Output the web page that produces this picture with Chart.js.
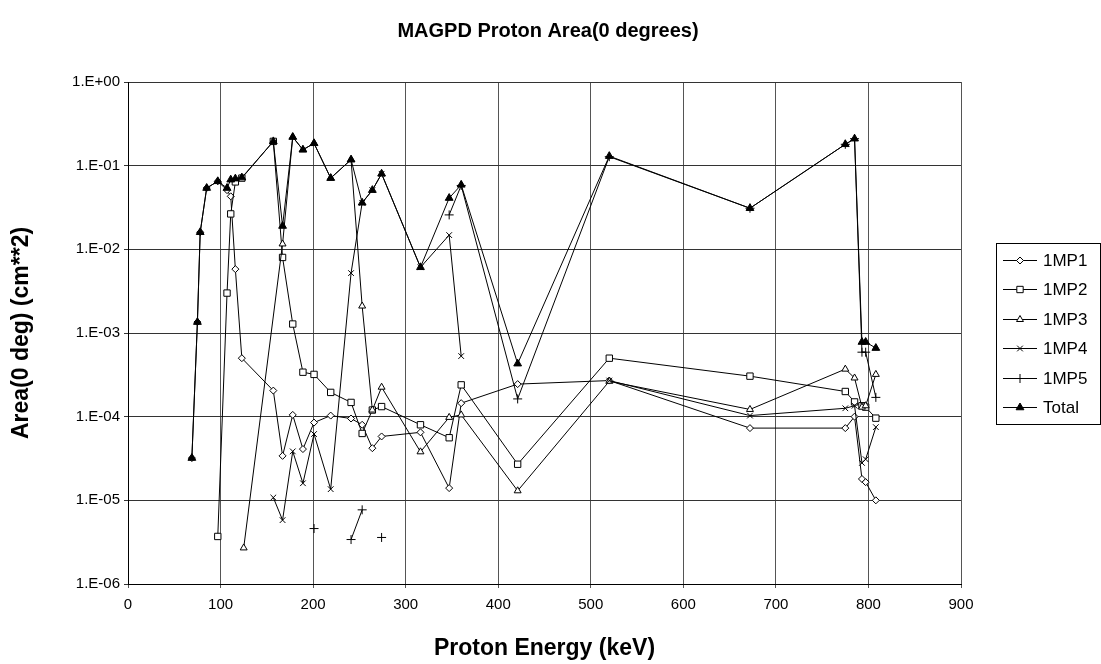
<!DOCTYPE html>
<html>
<head>
<meta charset="utf-8">
<script src="https://cdn.jsdelivr.net/npm/chart.js@4/dist/chart.umd.min.js"></script>
<style>
html,body{margin:0;padding:0;background:#fff;}
#wrap{width:1101px;height:664px;position:relative;}
</style>
</head>
<body>
<div id="wrap"><canvas id="c" width="1101" height="664"></canvas></div>
<script>
// ---------------- DATA ----------------
const chartTitle = 'MAGPD Proton Area(0 degrees)';
const xTitle = 'Proton Energy (keV)';
const yTitle = 'Area(0 deg) (cm**2)';
const seriesNames = ['1MP1', '1MP2', '1MP3', '1MP4', '1MP5', 'Total'];

const totalE = [69, 75, 78, 85, 97, 107, 111, 116, 123, 157, 167, 178, 189, 201, 219, 241, 253, 264, 274, 316, 347, 360, 421, 520, 672, 775, 785, 793, 797, 808];
const totalV = [3.2e-5, 1.35e-3, 1.6e-2, 5.4e-2, 6.5e-2, 5.4e-2, 6.8e-2, 7.0e-2, 7.2e-2, 0.195, 0.019, 0.22, 0.155, 0.185, 0.071, 0.118, 0.036, 0.051, 0.080, 0.0061, 0.041, 0.059, 4.3e-4, 0.13, 0.031, 0.18, 0.21, 7.8e-4, 7.8e-4, 6.6e-4];

const mp1E = [69, 75, 78, 85, 97, 107, 111, 116, 123, 157, 167, 178, 189, 201, 219, 241, 253, 264, 274, 316, 347, 360, 421, 520, 672, 775, 785, 793, 797, 808];
const mp1V = [3.2e-5, 1.35e-3, 1.6e-2, 5.4e-2, 6.5e-2, 5.1e-2, 4.3e-2, 5.8e-3, 5.0e-4, 2.05e-4, 3.4e-5, 1.05e-4, 4.1e-5, 8.5e-5, 1.03e-4, 9.5e-5, 8.0e-5, 4.2e-5, 5.8e-5, 6.5e-5, 1.4e-5, 1.45e-4, 2.45e-4, 2.7e-4, 7.3e-5, 7.3e-5, 1.0e-4, 1.8e-5, 1.65e-5, 1.0e-5];

const mp2E = [97, 107, 111, 116, 123, 157, 167, 178, 189, 201, 219, 241, 253, 264, 274, 316, 347, 360, 421, 520, 672, 775, 785, 793, 797, 808];
const mp2V = [3.7e-6, 3.0e-3, 2.65e-2, 6.4e-2, 7.1e-2, 0.195, 8.0e-3, 1.28e-3, 3.4e-4, 3.2e-4, 1.95e-4, 1.48e-4, 6.3e-5, 1.2e-4, 1.32e-4, 8.0e-5, 5.6e-5, 2.4e-4, 2.7e-5, 5.0e-4, 3.05e-4, 2.0e-4, 1.5e-4, 1.35e-4, 1.3e-4, 9.6e-5];

const mp3E = [125, 167, 178, 189, 201, 219, 241, 253, 264, 274, 316, 347, 360, 421, 520, 672, 775, 785, 793, 797, 808];
const mp3V = [2.7e-6, 1.16e-2, 0.22, 0.155, 0.185, 0.071, 0.118, 2.1e-3, 1.2e-4, 2.25e-4, 3.8e-5, 9.8e-5, 1.05e-4, 1.3e-5, 2.65e-4, 1.22e-4, 3.7e-4, 2.9e-4, 1.3e-4, 1.35e-4, 3.2e-4];

const mp4E = [157, 167, 178, 189, 201, 219, 241, 253, 264, 274, 316, 347, 360, 421, 520, 672, 775, 785, 793, 797, 808];
const mp4V = [1.08e-5, 5.8e-6, 3.85e-5, 1.6e-5, 6.2e-5, 1.36e-5, 5.2e-3, 0.036, 0.051, 0.080, 0.0061, 0.0148, 5.3e-4, null, 2.7e-4, 1.03e-4, 1.26e-4, 1.35e-4, 2.8e-5, 3.1e-5, 7.5e-5];

const mp5E = [201, 219, 241, 253, 264, 274, 316, 347, 360, 421, 520, 672, 775, 785, 793, 797, 808];
const mp5V = [4.6e-6, null, 3.4e-6, 7.7e-6, null, 3.6e-6, null, 0.0258, 0.058, 1.63e-4, 0.128, 0.031, 0.18, 0.21, 5.9e-4, 5.9e-4, 1.7e-4];

const xTicks = [0, 100, 200, 300, 400, 500, 600, 700, 800, 900];
const yTicks = [1e-6, 1e-5, 1e-4, 1e-3, 1e-2, 1e-1, 1];
const yTickLabels = ['1.E-06', '1.E-05', '1.E-04', '1.E-03', '1.E-02', '1.E-01', '1.E+00'];

// ---------------- CHART ----------------
const FONT = '"Liberation Sans", Arial, sans-serif';
function pts(E, V) { return E.map((x, i) => ({ x: x, y: V[i] })); }

function ds(label, E, V, style, radius, fill, order) {
  return {
    label: label,
    data: pts(E, V),
    borderColor: '#000',
    borderWidth: 1,
    pointStyle: style,
    pointRadius: radius,
    pointHoverRadius: radius,
    pointBorderColor: '#000',
    pointBorderWidth: 1,
    pointBackgroundColor: fill,
    tension: 0,
    fill: false,
    spanGaps: false,
    order: order
  };
}

const datasets = [
  ds(seriesNames[0], mp1E, mp1V, 'rectRot', 3.5, '#fff', 5),
  ds(seriesNames[1], mp2E, mp2V, 'rect', 4.5, '#fff', 4),
  ds(seriesNames[2], mp3E, mp3V, 'triangle', 4, '#fff', 3),
  ds(seriesNames[3], mp4E, mp4V, 'crossRot', 4, '#fff', 2),
  ds(seriesNames[4], mp5E, mp5V, 'cross', 4.5, '#fff', 1),
  ds(seriesNames[5], totalE, totalV, 'triangle', 4.5, '#000', 0)
];

const titleAndLegend = {
  id: 'titleAndLegend',
  afterDraw(chart) {
    const ctx = chart.ctx;
    const ca = chart.chartArea;
    ctx.save();
    // chart title
    ctx.fillStyle = '#000';
    ctx.font = 'bold 20px ' + FONT;
    ctx.textAlign = 'center';
    ctx.textBaseline = 'middle';
    ctx.fillText(chartTitle, 548, 31);

    // legend box
    const left = Math.round(ca.right) + 35;
    const top = 243;
    const w = 104, h = 181;
    const rowH = 29.4, y0 = 260;
    ctx.lineWidth = 1;
    ctx.strokeStyle = '#000';
    ctx.strokeRect(left + 0.5, top + 0.5, w, h);
    chart.data.datasets.forEach((d, i) => {
      const y = Math.round(y0 + i * rowH) + 0.5;
      ctx.beginPath();
      ctx.strokeStyle = '#000';
      ctx.lineWidth = 1;
      ctx.moveTo(left + 7, y);
      ctx.lineTo(left + 41, y);
      ctx.stroke();
      ctx.fillStyle = d.pointBackgroundColor;
      ctx.strokeStyle = '#000';
      if (Chart.helpers && Chart.helpers.drawPoint) {
        Chart.helpers.drawPoint(ctx, { pointStyle: d.pointStyle, radius: d.pointRadius, borderWidth: 1, rotation: 0 }, left + 24, y);
      }
      ctx.fillStyle = '#000';
      ctx.font = '17px ' + FONT;
      ctx.textBaseline = 'middle';
      ctx.textAlign = 'left';
      ctx.fillText(d.label, left + 47, y + 1);
    });
    ctx.restore();
  }
};

new Chart(document.getElementById('c'), {
  type: 'line',
  data: { datasets: datasets },
  plugins: [titleAndLegend],
  options: {
    responsive: false,
    animation: false,
    devicePixelRatio: 1,
    layout: { padding: { left: 0, right: 140, top: 82, bottom: 0 } },
    plugins: {
      legend: { display: false },
      tooltip: { enabled: false },
      title: { display: false }
    },
    scales: {
      x: {
        type: 'linear',
        min: 0,
        max: 900,
        afterBuildTicks(scale) { scale.ticks = xTicks.map(v => ({ value: v })); },
        afterFit(scale) { scale.height = 80; },
        ticks: {
          color: '#000',
          font: { family: FONT, size: 15 },
          padding: 8,
          maxRotation: 0,
          callback: (v) => String(v)
        },
        grid: { color: '#555', lineWidth: 1, tickLength: 4, drawTicks: true },
        border: { color: '#000', width: 1 },
        title: {
          display: true,
          text: xTitle,
          color: '#000',
          font: { family: FONT, size: 23, weight: 'bold' },
          padding: { top: 0, bottom: 2 }
        }
      },
      y: {
        type: 'logarithmic',
        min: 1e-6,
        max: 1,
        afterBuildTicks(scale) { scale.ticks = yTicks.map(v => ({ value: v })); },
        afterFit(scale) { scale.width = 128; },
        ticks: {
          color: '#000',
          font: { family: FONT, size: 15 },
          padding: 4,
          autoSkip: false,
          callback: (v) => {
            const i = yTicks.findIndex(t => Math.abs(Math.log10(t) - Math.log10(v)) < 1e-6);
            return i >= 0 ? yTickLabels[i] : '';
          }
        },
        grid: { color: '#333', lineWidth: 1, tickLength: 4, drawTicks: true },
        border: { color: '#000', width: 1 },
        title: {
          display: true,
          text: yTitle,
          color: '#000',
          font: { family: FONT, size: 23, weight: 'bold' },
          padding: { top: 8, bottom: 0 }
        }
      }
    }
  }
});
</script>
</body>
</html>
